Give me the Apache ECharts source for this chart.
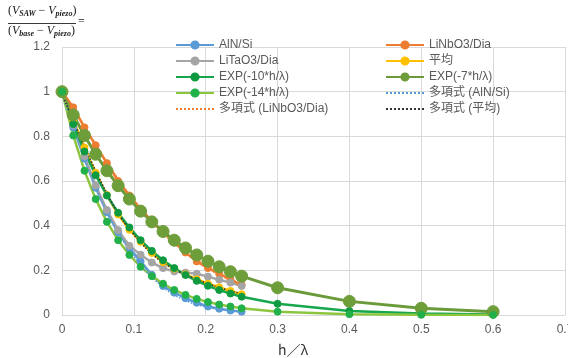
<!DOCTYPE html>
<html>
<head>
<meta charset="utf-8">
<script src="https://cdn.jsdelivr.net/npm/echarts@6/dist/echarts.min.js"></script>
<style>html,body{margin:0;padding:0;background:#fff}#c{width:568px;height:358px}</style>
</head>
<body>
<div id="c"></div>
<script>
// x = h/λ sample points
var xSample = [0, 0.015625, 0.03125, 0.046875, 0.0625, 0.078125, 0.09375, 0.109375, 0.125, 0.140625, 0.15625, 0.171875, 0.1875, 0.203125, 0.21875, 0.234375, 0.25];
var xExp = [0, 0.015625, 0.03125, 0.046875, 0.0625, 0.078125, 0.09375, 0.109375, 0.125, 0.140625, 0.15625, 0.171875, 0.1875, 0.203125, 0.21875, 0.234375, 0.25, 0.3, 0.4, 0.5, 0.6];

var alnSi   = [1, 0.84, 0.70, 0.57, 0.46, 0.37, 0.30, 0.24, 0.18, 0.13, 0.10, 0.075, 0.055, 0.038, 0.028, 0.02, 0.015];
var linbo3  = [1, 0.93, 0.84, 0.76, 0.68, 0.60, 0.535, 0.475, 0.42, 0.37, 0.325, 0.28, 0.24, 0.21, 0.185, 0.16, 0.135];
var litao3  = [1, 0.85, 0.71, 0.58, 0.47, 0.38, 0.31, 0.27, 0.235, 0.21, 0.195, 0.19, 0.185, 0.172, 0.158, 0.145, 0.13];
var average = [1, 0.873, 0.75, 0.637, 0.537, 0.45, 0.382, 0.328, 0.278, 0.237, 0.207, 0.182, 0.16, 0.14, 0.124, 0.108, 0.093];
var exp10   = [1, 0.855, 0.732, 0.626, 0.535, 0.458, 0.392, 0.335, 0.287, 0.245, 0.210, 0.179, 0.153, 0.131, 0.112, 0.096, 0.082, 0.050, 0.018, 0.0067, 0.0025];
var exp7    = [1, 0.896, 0.804, 0.720, 0.646, 0.579, 0.519, 0.465, 0.417, 0.374, 0.335, 0.300, 0.269, 0.241, 0.216, 0.194, 0.174, 0.122, 0.061, 0.030, 0.015];
var exp14   = [1, 0.804, 0.646, 0.519, 0.417, 0.335, 0.269, 0.216, 0.174, 0.140, 0.112, 0.090, 0.072, 0.058, 0.047, 0.038, 0.030, 0.015, 0.0037, 0.0009, 0.0002];
var polyLinbo3 = [0.995, 0.925, 0.845, 0.765, 0.685, 0.61, 0.54, 0.475, 0.415, 0.365, 0.32, 0.28, 0.245, 0.21, 0.18, 0.155, 0.13];
var polyAlnSi  = [0.99, 0.84, 0.70, 0.575, 0.465, 0.37, 0.29, 0.225, 0.17, 0.125, 0.09, 0.065, 0.047, 0.035, 0.026, 0.02, 0.017];
var polyAvg    = [0.99, 0.87, 0.755, 0.645, 0.545, 0.455, 0.385, 0.325, 0.275, 0.235, 0.205, 0.18, 0.16, 0.14, 0.123, 0.108, 0.095];

var xTicks = ['0', '0.1', '0.2', '0.3', '0.4', '0.5', '0.6', '0.7'];
var yTicks = ['0', '0.2', '0.4', '0.6', '0.8', '1', '1.2'];

function pairs(xs, ys) { return ys.map(function (v, i) { return [xs[i], v]; }); }

var FONT = '"Liberation Sans", "Noto Sans CJK JP", sans-serif';
var SERIF = '"Liberation Serif", serif';

function lineSeries(name, xs, ys, lineColor, markColor, size, width) {
  return {
    name: name, type: 'line', data: pairs(xs, ys),
    symbol: 'circle', symbolSize: size,
    lineStyle: { color: lineColor, width: width },
    itemStyle: { color: markColor, borderColor: markColor, borderWidth: 1 },
    emphasis: { disabled: true }, animation: false
  };
}
function trendSeries(name, xs, ys, color) {
  return {
    name: name, type: 'line', data: pairs(xs, ys), smooth: true,
    symbol: 'none', lineStyle: { color: color, width: 1.6, type: 'dotted' },
    itemStyle: { color: color }, emphasis: { disabled: true }, animation: false
  };
}
function trendLegend(name) { return { name: name, itemStyle: { opacity: 0 } }; }

var richF = {
  b: { fontSize: 12, fontFamily: SERIF, fill: '#222', lineHeight: 14 },
  v: { fontSize: 12, fontFamily: SERIF, fontStyle: 'italic', fill: '#222', lineHeight: 14 },
  s: { fontSize: 8, fontFamily: SERIF, fontStyle: 'italic', fontWeight: 'bold', fill: '#222', lineHeight: 8, verticalAlign: 'bottom' }
};

var chart = echarts.init(document.getElementById('c'), null, { renderer: 'canvas' });
chart.setOption({
  backgroundColor: '#fff',
  animation: false,
  grid: { left: 62, right: 3, top: 47, bottom: 43, containLabel: false, outerBoundsMode: 'none' },
  xAxis: {
    type: 'value', min: 0, max: 0.7, interval: 0.1,
    axisLine: { show: true, lineStyle: { color: '#D9D9D9' } },
    axisTick: { show: false },
    splitLine: { show: true, lineStyle: { color: '#D9D9D9', width: 1 } },
    axisLabel: { color: '#595959', fontSize: 12, fontFamily: FONT, margin: 9, hideOverlap: false,
      formatter: function (v) { return xTicks[Math.round(v * 10)]; } }
  },
  yAxis: {
    type: 'value', min: 0, max: 1.2, interval: 0.2,
    axisLine: { show: false }, axisTick: { show: false },
    splitLine: { show: true, lineStyle: { color: '#D9D9D9', width: 1 } },
    axisLabel: { color: '#595959', fontSize: 12, fontFamily: FONT, margin: 12,
      formatter: function (v) { return yTicks[Math.round(v * 5)]; } }
  },
  legend: [
    { data: ['AlN/Si', 'LiTaO3/Dia', 'EXP(-10*h/λ)', 'EXP(-14*h/λ)', trendLegend('多項式 (LiNbO3/Dia)')],
      orient: 'vertical', left: 170, top: 33, itemWidth: 38, itemHeight: 9, itemGap: 2,
      selectedMode: false, textStyle: { color: '#595959', fontSize: 12, fontFamily: FONT, lineHeight: 14 } },
    { data: ['LiNbO3/Dia', '平均', 'EXP(-7*h/λ)', trendLegend('多項式 (AlN/Si)'), trendLegend('多項式 (平均)')],
      orient: 'vertical', left: 380, top: 33, itemWidth: 38, itemHeight: 9, itemGap: 2,
      selectedMode: false, textStyle: { color: '#595959', fontSize: 12, fontFamily: FONT, lineHeight: 14 } }
  ],
  graphic: [
    { type: 'text', left: 8, top: 5, silent: true,
      style: { text: '{b|(}{v|V}{s|SAW}{b| − }{v|V}{s|piezo}{b|)}', rich: richF } },
    { type: 'line', silent: true, shape: { x1: 8, y1: 23.5, x2: 76, y2: 23.5 }, style: { stroke: '#222', lineWidth: 0.9 } },
    { type: 'text', left: 8, top: 25, silent: true,
      style: { text: '{b|(}{v|V}{s|base}{b| − }{v|V}{s|piezo}{b|)}', rich: richF } },
    { type: 'text', left: 78, top: 16, silent: true,
      style: { text: '=', fontSize: 12, fontFamily: SERIF, fill: '#222' } },
    { type: 'text', left: 278, top: 343, silent: true,
      style: { text: 'h／λ', fontSize: 14, fontFamily: '"Noto Sans CJK JP", sans-serif', fill: '#333' } }
  ],
  series: [
    lineSeries('AlN/Si', xSample, alnSi, '#5B9BD5', '#5B9BD5', 7, 2.5),
    lineSeries('LiNbO3/Dia', xSample, linbo3, '#ED7D31', '#ED7D31', 7, 2.5),
    lineSeries('LiTaO3/Dia', xSample, litao3, '#A5A5A5', '#A5A5A5', 7, 2.5),
    lineSeries('平均', xSample, average, '#FFC000', '#FFC000', 7, 2.5),
    lineSeries('EXP(-10*h/λ)', xExp, exp10, '#16A64C', '#0E9A40', 7, 2.5),
    lineSeries('EXP(-7*h/λ)', xExp, exp7, '#6A9A3A', '#6E9E3A', 12, 3),
    lineSeries('EXP(-14*h/λ)', xExp, exp14, '#8CC63F', '#22B04B', 7, 2.5),
    trendSeries('多項式 (LiNbO3/Dia)', xSample, polyLinbo3, '#ED7D31'),
    trendSeries('多項式 (AlN/Si)', xSample, polyAlnSi, '#5B9BD5'),
    trendSeries('多項式 (平均)', xSample, polyAvg, '#333333')
  ]
});
</script>
</body>
</html>
